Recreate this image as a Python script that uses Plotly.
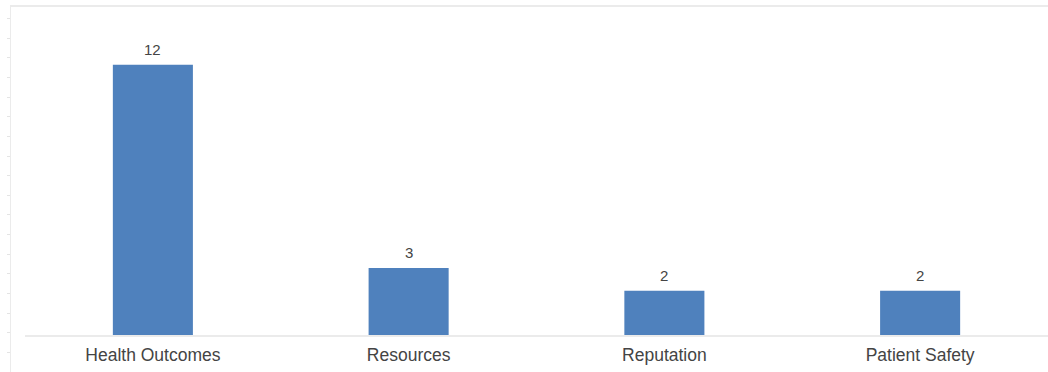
import plotly.graph_objects as go

# Issue counts by category
categories = ["Health Outcomes", "Resources", "Reputation", "Patient Safety"]
counts = [12, 3, 2, 2]

BAR_COLOR = "#4f81bd"
FRAME_COLOR = "#ebebeb"
TEXT_COLOR = "#444444"
FONT = "Liberation Sans, Arial, sans-serif"

fig = go.Figure(
    go.Bar(
        x=categories,
        y=counts,
        marker=dict(color=BAR_COLOR, line=dict(width=0)),
        hoverinfo="x+y",
    )
)

# value labels above each bar
for cat, val in zip(categories, counts):
    fig.add_annotation(
        x=cat, y=val, text=str(val), showarrow=False,
        xref="x", yref="y", yanchor="bottom", yshift=5,
        font=dict(family=FONT, size=15, color=TEXT_COLOR),
    )

fig.update_layout(
    width=1048,
    height=372,
    margin=dict(l=10, r=0, t=6, b=0),
    paper_bgcolor="white",
    plot_bgcolor="white",
    bargap=0.687,
    showlegend=False,
    font=dict(family=FONT, color=TEXT_COLOR),
    xaxis=dict(
        domain=[15 / 1038, 1],
        anchor="free",
        position=36 / 366,
        range=[-0.5, 3.5],
        showline=True,
        linecolor=FRAME_COLOR,
        linewidth=2,
        showgrid=False,
        zeroline=False,
        ticks="outside",
        ticklen=3,
        tickcolor="rgba(0,0,0,0)",
        tickfont=dict(size=17.5, color=TEXT_COLOR),
    ),
    yaxis=dict(
        anchor="free",
        position=0,
        range=[-1.6, 14.6],
        showline=True,
        linecolor=FRAME_COLOR,
        linewidth=1,
        showgrid=False,
        zeroline=False,
        showticklabels=False,
        ticks="outside",
        ticklen=3,
        tickcolor="#e4e4e4",
        tick0=0.13,
        dtick=0.87,
    ),
    shapes=[
        # top frame rule
        dict(type="line", xref="paper", yref="paper", x0=0, x1=1, y0=1, y1=1,
             line=dict(color=FRAME_COLOR, width=2)),
    ],
)

fig.write_html("out.html")
